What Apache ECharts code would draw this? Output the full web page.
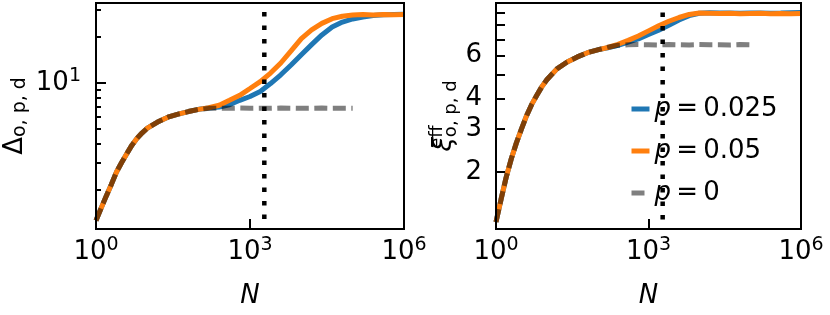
<!DOCTYPE html>
<html><head><meta charset="utf-8">
<script src="https://cdn.jsdelivr.net/npm/echarts@6/dist/echarts.min.js"></script>
<style>html,body{margin:0;padding:0;background:#fff}#c{width:830px;height:315px}</style>
</head><body><div id="c"></div>
<script>
// N sample points (log10 N = 0,0.1,...,1.0, then 1.2,1.4,...,6.0)
const nValues = [1, 1.26, 1.58, 2, 2.51, 3.16, 3.98, 5.01, 6.31, 7.94, 10,
  15.8, 25.1, 39.8, 63.1, 100, 158, 251, 398, 631, 1000, 1585, 2512, 3981, 6310,
  10000, 15850, 25120, 39810, 63100, 100000, 158500, 251200, 398100, 631000, 1000000];

// left panel: Delta_{o,p,d}
const deltaP025 = [1.26, 1.52, 1.82, 2.18, 2.62, 3.02, 3.45, 3.92, 4.35, 4.72, 5.06,
  5.55, 5.97, 6.25, 6.5, 6.72, 6.85, 6.95, 7.2, 7.7, 8.15, 8.8, 9.9, 11.3, 13.1,
  15.3, 17.8, 20.6, 23.2, 25.0, 26.2, 27.0, 27.6, 27.9, 28.0, 28.1];
const deltaP05 = [1.26, 1.52, 1.82, 2.18, 2.62, 3.02, 3.45, 3.92, 4.35, 4.72, 5.06,
  5.55, 5.97, 6.25, 6.5, 6.72, 6.88, 7.15, 7.7, 8.3, 9.2, 10.2, 11.6, 13.5, 16.2,
  19.5, 22.2, 24.5, 26.3, 27.3, 27.8, 28.0, 27.8, 28.0, 27.9, 28.0];
const deltaP0 = [1.26, 1.52, 1.82, 2.18, 2.62, 3.02, 3.45, 3.92, 4.35, 4.72, 5.06,
  5.55, 5.97, 6.25, 6.5, 6.72, 6.82, 6.84, 6.83, 6.85, 6.83, 6.84, 6.83, 6.85, 6.84,
  6.83, 6.84, 6.85, 6.83, 6.84, 6.84];

// right panel: xi^eff_{o,p,d}
const xiP025 = [1.25, 1.55, 1.9, 2.27, 2.63, 3.0, 3.4, 3.78, 4.12, 4.47, 4.78,
  5.3, 5.65, 5.93, 6.17, 6.34, 6.46, 6.62, 6.82, 7.03, 7.33, 7.63, 8.0, 8.4, 8.75,
  8.95, 9.0, 8.97, 8.98, 8.95, 8.97, 8.98, 8.95, 8.97, 9.0, 9.02];
const xiP05 = [1.25, 1.55, 1.9, 2.27, 2.63, 3.0, 3.4, 3.78, 4.12, 4.47, 4.78,
  5.3, 5.65, 5.93, 6.17, 6.34, 6.48, 6.68, 6.93, 7.22, 7.58, 7.95, 8.3, 8.6, 8.85,
  8.98, 8.95, 8.92, 8.95, 8.9, 8.93, 8.95, 8.9, 8.93, 8.9, 8.92];
const xiP0 = [1.25, 1.55, 1.9, 2.27, 2.63, 3.0, 3.4, 3.78, 4.12, 4.47, 4.78,
  5.3, 5.65, 5.93, 6.17, 6.34, 6.5, 6.62, 6.65, 6.66, 6.65, 6.64, 6.66, 6.65, 6.64,
  6.66, 6.65, 6.65, 6.64, 6.66, 6.65];

const seriesNames = ['p = 0.025', 'p = 0.05', 'p = 0'];
const xTicks = [1, 1000, 1000000];
const leftMajorTicks = [10];
const leftMinorTicks = [2, 3, 4, 5, 6, 7, 8, 9, 20, 30];
const rightTicks = [2, 3, 4, 5, 6, 7, 8, 9];
const rightTickLabels = [2, 3, 4, 6];
const vlineN = [1900, 1900];
const vlineLeft = [1.29, 29.5];
const vlineRight = [1.28, 9.14];

const FONT = 'DejaVu Sans';
const pairs = (xs, ys) => ys.map((y, i) => [xs[i], y]);
const supFmt = v => '{b|10}{s|' + Math.round(Math.log10(v)) + '}';
const supRich = {
  b: {fontSize: 26, lineHeight: 33, fontFamily: FONT, color: '#000'},
  s: {fontSize: 19, lineHeight: 19, fontFamily: FONT, color: '#000', verticalAlign: 'top'}
};

function xAxisFor(gi) {
  return {
    type: 'log', logBase: 10, gridIndex: gi, min: 1, max: 1000000,
    axisLine: {show: false}, splitLine: {show: false},
    axisTick: {show: true, inside: true, length: 10, customValues: xTicks,
      lineStyle: {color: '#000', width: 2}},
    axisLabel: {customValues: xTicks, formatter: supFmt, rich: supRich, margin: 7},
    name: 'N', nameLocation: 'middle', nameGap: 54,
    nameTextStyle: {fontSize: 26, fontStyle: 'italic', fontFamily: FONT, color: '#000'}
  };
}

const lineCommon = {type: 'line', showSymbol: false, symbol: 'none', silent: true,
  animation: false, clip: true};
const styles = [
  {color: '#1f77b4', lineStyle: {color: '#1f77b4', width: 5}},
  {color: '#ff7f0e', lineStyle: {color: '#ff7f0e', width: 5}},
  {color: 'rgba(0,0,0,0.5)', lineStyle: {color: 'rgba(0,0,0,0.5)', width: 5, type: [13, 5.5]}}
];
function panelSeries(xi, yi, d025, d05, d0, vline) {
  const data = [d025, d05, d0];
  const out = data.map((d, k) => Object.assign({}, lineCommon, styles[k], {
    name: seriesNames[k], xAxisIndex: xi, yAxisIndex: yi,
    data: pairs(nValues, d)
  }));
  out.push(Object.assign({}, lineCommon, {
    name: 'vline', xAxisIndex: xi, yAxisIndex: yi, z: 5,
    data: pairs(vlineN, vline),
    lineStyle: {color: '#000', width: 4.5, type: [4.5, 9], cap: 'butt'}
  }));
  return out;
}

const chart = echarts.init(document.getElementById('c'), null, {renderer: 'canvas'});
chart.setOption({
  animation: false,
  backgroundColor: '#fff',
  textStyle: {fontFamily: FONT},
  grid: [
    {left: 96, top: 3, width: 308, height: 226, show: true, borderColor: '#000', borderWidth: 2, backgroundColor: 'transparent', z: 10},
    {left: 496, top: 3, width: 305, height: 226, show: true, borderColor: '#000', borderWidth: 2, backgroundColor: 'transparent', z: 10}
  ],
  xAxis: [xAxisFor(0), xAxisFor(1)],
  yAxis: [
    {type: 'log', logBase: 10, gridIndex: 0, position: 'left', min: 1.11, max: 33.3,
      axisLine: {show: false}, splitLine: {show: false},
      axisTick: {inside: true, length: 10, customValues: leftMajorTicks, lineStyle: {color: '#000', width: 2}},
      axisLabel: {customValues: leftMajorTicks, formatter: supFmt, rich: supRich, margin: 15},
      name: '{d|Δ}{sub|o, p, d}', nameLocation: 'middle', nameRotate: 90, nameGap: 66,
      nameTextStyle: {rich: {
        d: {fontSize: 26, lineHeight: 30, fontFamily: FONT, color: '#000'},
        sub: {fontSize: 19, lineHeight: 18, fontFamily: FONT, color: '#000', verticalAlign: 'bottom'}
      }}
    },
    {type: 'log', logBase: 10, gridIndex: 0, position: 'left', min: 1.11, max: 33.3,
      axisLine: {show: false}, splitLine: {show: false},
      axisTick: {inside: true, length: 5, customValues: leftMinorTicks, lineStyle: {color: '#000', width: 2}},
      axisLabel: {show: false}
    },
    {type: 'log', logBase: 10, gridIndex: 1, position: 'left', min: 1.17, max: 9.86,
      axisLine: {show: false}, splitLine: {show: false},
      axisTick: {inside: true, length: 9, customValues: rightTicks, lineStyle: {color: '#000', width: 2}},
      axisLabel: {customValues: rightTickLabels, fontSize: 26, fontFamily: FONT, color: '#000', margin: 14},
      name: '{x|ξ}{sup|eff}{sub|o, p, d}', nameLocation: 'middle', nameRotate: 90, nameGap: 36,
      nameTextStyle: {rich: {
        x: {fontSize: 26, lineHeight: 32, fontFamily: FONT, fontStyle: 'italic', color: '#000'},
        sup: {fontSize: 18, lineHeight: 18, width: 0, fontFamily: FONT, color: '#000', verticalAlign: 'top'},
        sub: {fontSize: 18, lineHeight: 18, fontFamily: FONT, color: '#000', verticalAlign: 'bottom'}
      }}
    }
  ],
  legend: {
    data: seriesNames, orient: 'vertical', left: 624, top: 89,
    itemWidth: 18, itemHeight: 14, itemGap: 12, selectedMode: false,
    itemStyle: {color: 'transparent', borderColor: 'transparent', borderWidth: 0, opacity: 0},
    lineStyle: {width: 5},
    formatter: name => '{i|p}\u2009=\u2009' + name.slice(4),
    textStyle: {fontSize: 26, fontFamily: FONT, color: '#000', lineHeight: 30,
      rich: {i: {fontSize: 26, fontFamily: FONT, fontStyle: 'italic', color: '#000', lineHeight: 30}}}
  },
  series: [].concat(
    panelSeries(0, 0, deltaP025, deltaP05, deltaP0, vlineLeft),
    panelSeries(1, 2, xiP025, xiP05, xiP0, vlineRight)
  )
});
</script></body></html>
